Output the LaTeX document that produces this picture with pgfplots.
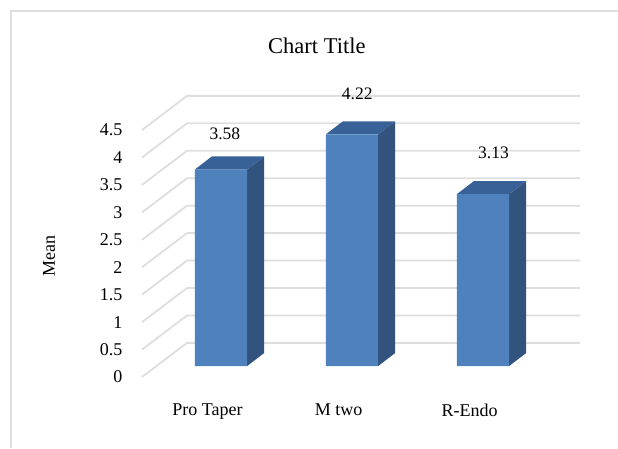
\documentclass[border=0pt]{standalone}
\usepackage{pgfplots}
\pgfplotsset{compat=1.18}
\usepackage{fontspec}
\setmainfont{Liberation Serif}
\definecolor{gridc}{HTML}{DEDEDE}
\definecolor{barf}{HTML}{4F81BD}
\definecolor{bars}{HTML}{31537E}
\definecolor{bart}{HTML}{386297}
\begin{document}
\begin{tikzpicture}[x=1pt,y=1pt]
\path[use as bounding box] (0,0) rectangle (618,448);
\draw[gridc,line width=2.4pt] (11,0) -- (11,437) -- (618,437);
% main axis: front plane of the floor and the tick labels
\begin{axis}[
  at={(142pt,71pt)}, anchor=south west,
  scale only axis, width=393pt, height=247pt,
  xmin=-0.5, xmax=2.5, ymin=0, ymax=4.5,
  clip=false,
  axis line style={draw=none}, major tick length=0pt,
  xtick={0,1,2}, xticklabels={Pro Taper,M two,R-Endo},
  ytick={0,0.5,1,1.5,2,2.5,3,3.5,4,4.5},
  yticklabels={0,0.5,1,1.5,2,2.5,3,3.5,4,4.5},
  tick label style={font=\fontsize{18}{20}\selectfont},
  /pgf/number format/assume math mode=true,
  yticklabel style={xshift=-16pt},
  xticklabel style={yshift=-23pt},
  title={Chart Title}, title style={at={(rel axis cs:0.445,1.316)},anchor=center,font=\fontsize{22.5}{25}\selectfont},
  ylabel={Mean}, ylabel style={at={(rel axis cs:-0.2366,0.49)},anchor=center,font=\fontsize{18}{20}\selectfont},
]
\addplot[gridc,line width=1.8pt,unbounded coords=jump] coordinates {
(-0.5,0) (-0.1565,0.6216) (2.8435,0.6216) (nan,nan)
(-0.5,0.5) (-0.1565,1.1216) (2.8435,1.1216) (nan,nan)
(-0.5,1) (-0.1565,1.6216) (2.8435,1.6216) (nan,nan)
(-0.5,1.5) (-0.1565,2.1216) (2.8435,2.1216) (nan,nan)
(-0.5,2) (-0.1565,2.6216) (2.8435,2.6216) (nan,nan)
(-0.5,2.5) (-0.1565,3.1216) (2.8435,3.1216) (nan,nan)
(-0.5,3) (-0.1565,3.6216) (2.8435,3.6216) (nan,nan)
(-0.5,3.5) (-0.1565,4.1216) (2.8435,4.1216) (nan,nan)
(-0.5,4) (-0.1565,4.6216) (2.8435,4.6216) (nan,nan)
(-0.5,4.5) (-0.1565,5.1216) (2.8435,5.1216)
};
\end{axis}
% bars: same scale, shifted onto the middle of the floor
\begin{axis}[
  at={(155.5pt,82pt)}, anchor=south west,
  scale only axis, width=393pt, height=247pt,
  xmin=-0.5, xmax=2.5, ymin=0, ymax=4.5,
  clip=false, hide axis,
]
% side faces
\addplot[fill=bars,draw=none] coordinates {(0.2,0) (0.33,0.238) (0.33,3.818) (0.2,3.58)} -- cycle;
\addplot[fill=bars,draw=none] coordinates {(1.2,0) (1.33,0.238) (1.33,4.458) (1.2,4.22)} -- cycle;
\addplot[fill=bars,draw=none] coordinates {(2.2,0) (2.33,0.238) (2.33,3.368) (2.2,3.13)} -- cycle;
% top faces
\addplot[fill=bart,draw=none] coordinates {(-0.2,3.58) (0.2,3.58) (0.33,3.818) (-0.07,3.818)} -- cycle;
\addplot[fill=bart,draw=none] coordinates {(0.8,4.22) (1.2,4.22) (1.33,4.458) (0.93,4.458)} -- cycle;
\addplot[fill=bart,draw=none] coordinates {(1.8,3.13) (2.2,3.13) (2.33,3.368) (1.93,3.368)} -- cycle;
% front faces
\addplot[ybar,bar width=0.4,bar shift=0pt,fill=barf,draw=none] coordinates {(0,3.58) (1,4.22) (2,3.13)};
% value labels
\node[font=\fontsize{17.5}{20}\selectfont] at (axis cs:0.03,4.23) {3.58};
\node[font=\fontsize{17.5}{20}\selectfont] at (axis cs:1.04,4.95) {4.22};
\node[font=\fontsize{17.5}{20}\selectfont] at (axis cs:2.08,3.88) {3.13};
\end{axis}
\end{tikzpicture}
\end{document}
